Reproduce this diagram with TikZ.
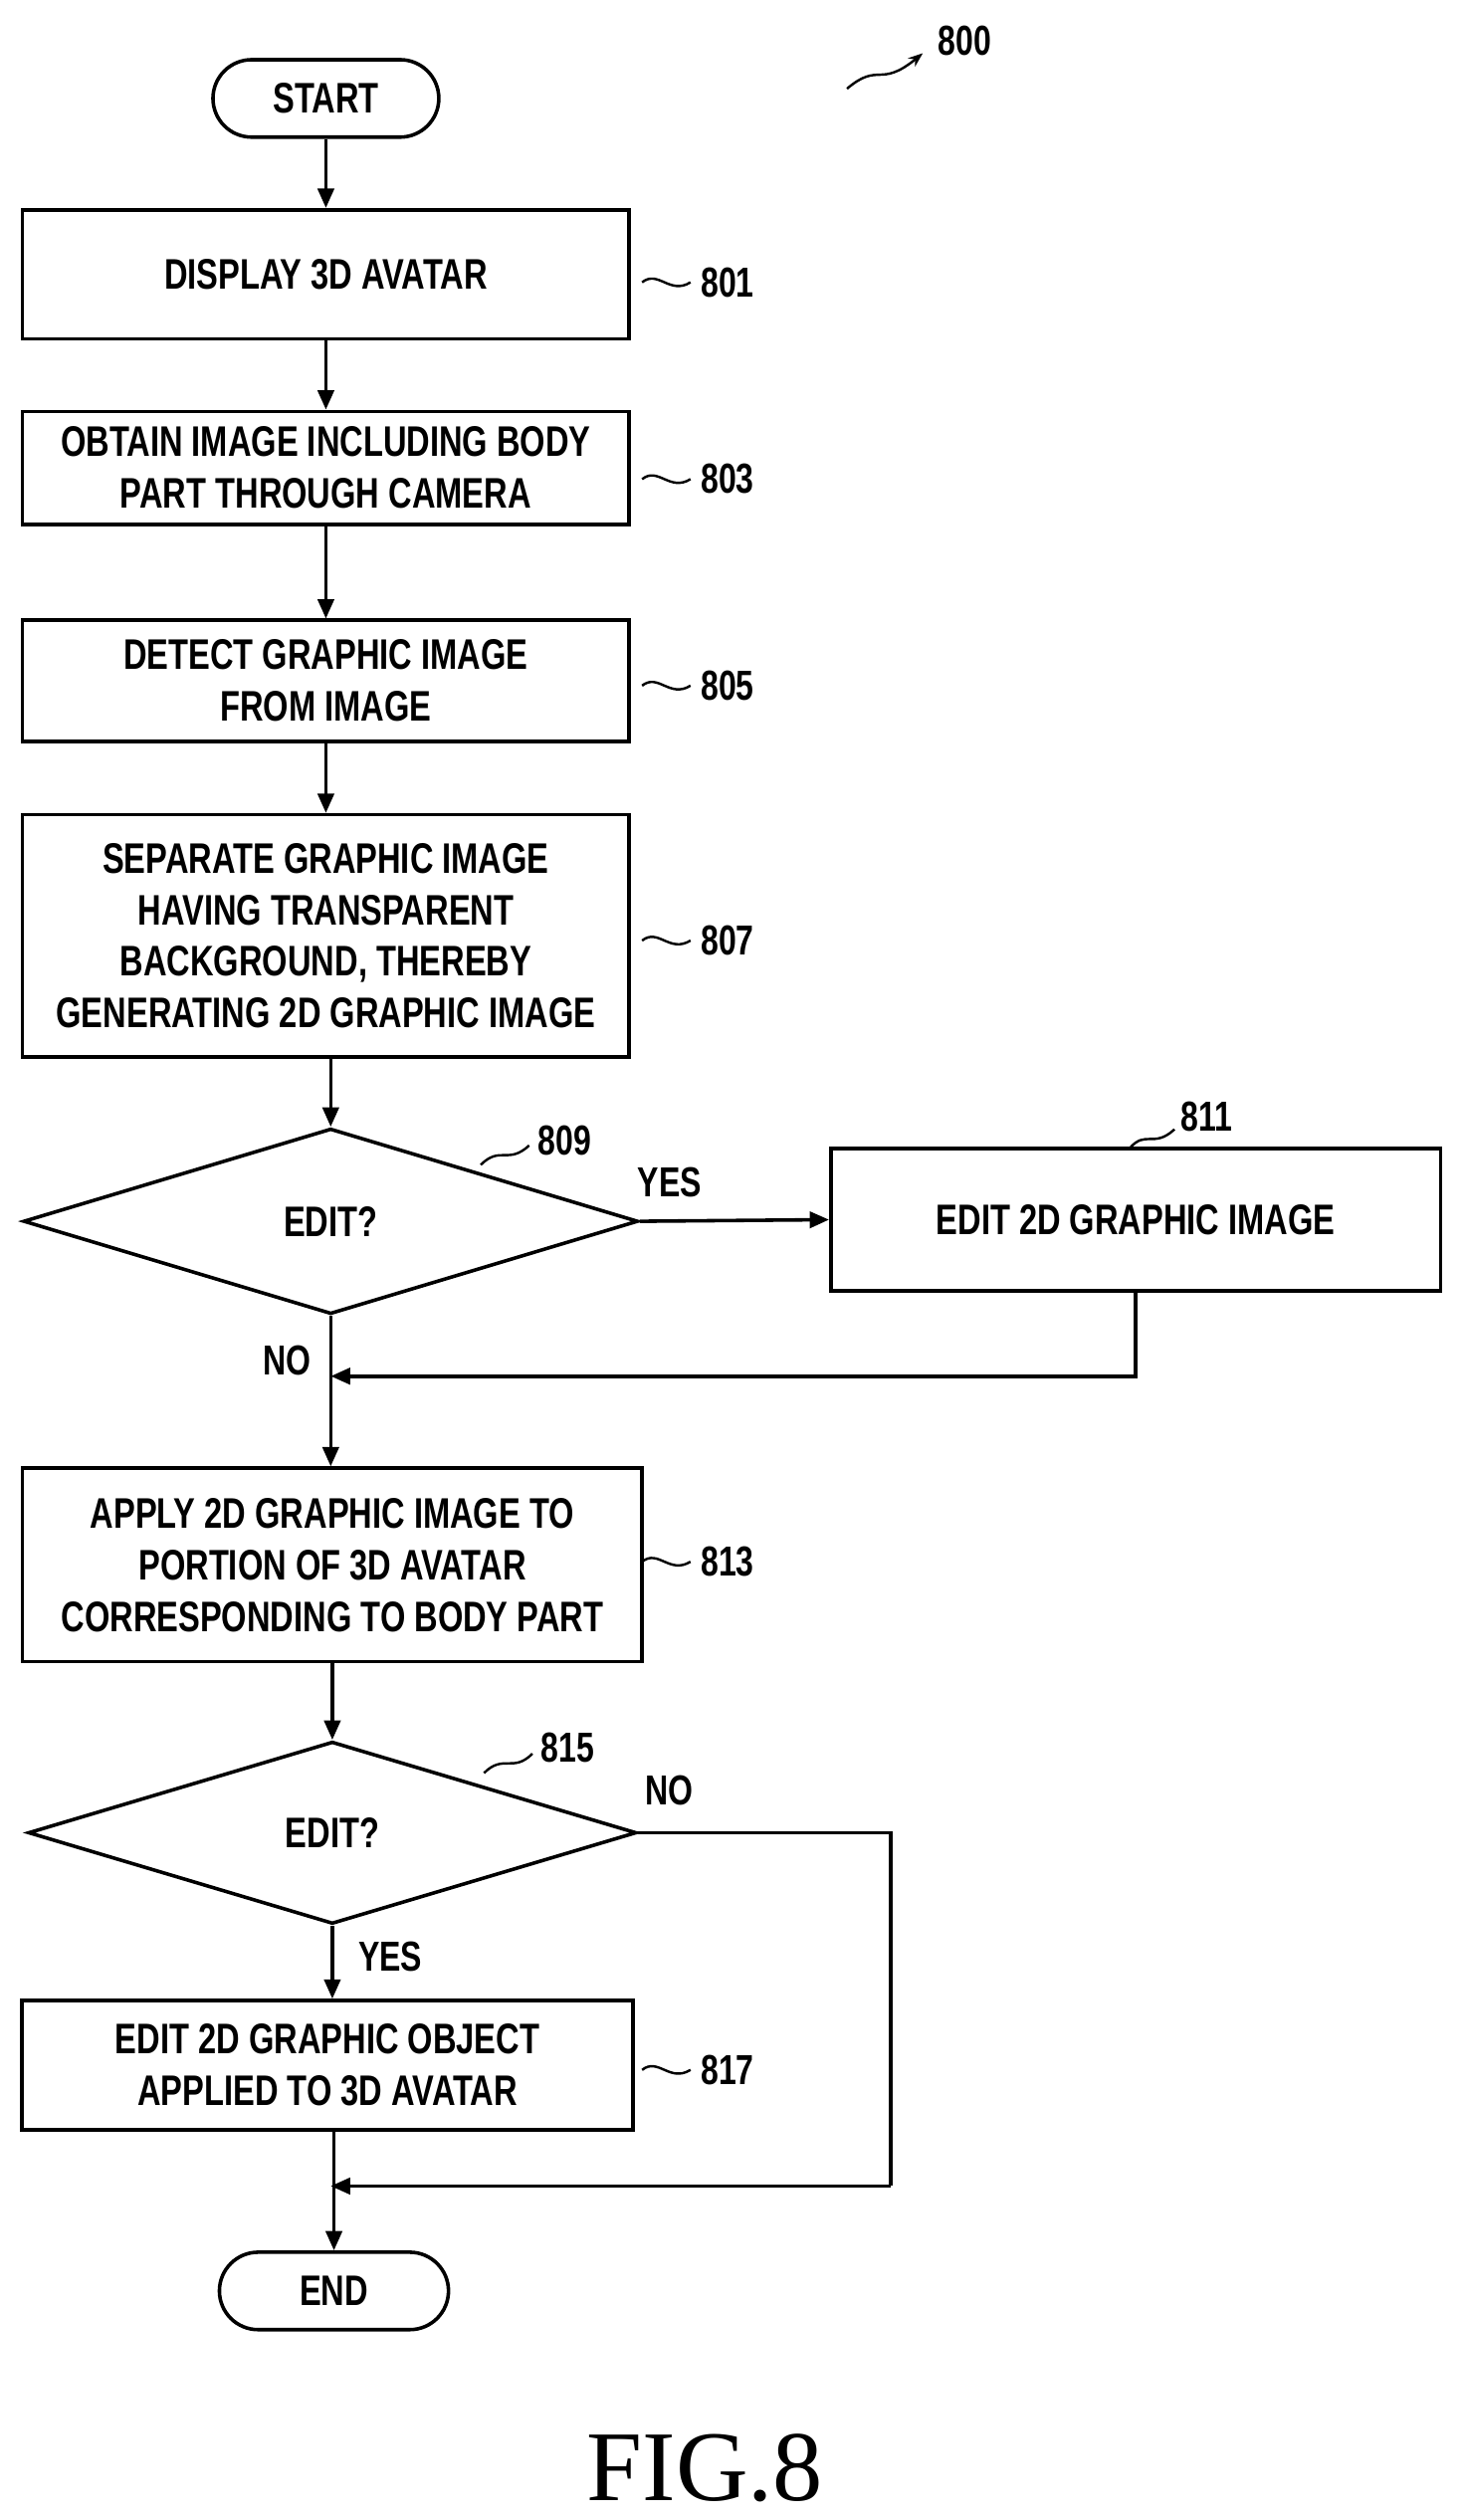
\documentclass[tikz,border=0pt]{standalone}
\usepackage{fontspec}
\setmainfont{Liberation Sans}[FakeStretch=0.76]
\newfontfamily\figfont{Liberation Serif}
\usetikzlibrary{shapes.geometric,arrows.meta}
\begin{document}
\begin{tikzpicture}[x=1pt,y=-1pt,line width=2.2pt,
  txt/.style={font=\fontsize{26.5}{32}\selectfont\bfseries,align=center},
  box/.style={draw,rectangle,txt,inner sep=0pt},
  pill/.style={draw,rounded corners=24pt,txt,inner sep=0pt},
  dia/.style={draw,diamond,txt,aspect=3.3,inner sep=0pt},
  arr/.style={-{Triangle[length=12pt,width=10pt]}},
  lab/.style={font=\fontsize{26}{30}\selectfont\bfseries}]
\useasboundingbox (0,0) rectangle (908,1562);
\node[pill,minimum width=140pt,minimum height=48pt] (start) at (202,61) {START};
\node[box,minimum width=376pt,minimum height=80pt] (b801) at (202,170) {DISPLAY 3D AVATAR};
\node[box,minimum width=376pt,minimum height=70pt] (b803) at (202,290) {OBTAIN IMAGE INCLUDING BODY\\PART THROUGH CAMERA};
\node[box,minimum width=376pt,minimum height=75pt] (b805) at (202,422) {DETECT GRAPHIC IMAGE\\FROM IMAGE};
\node[box,minimum width=376pt,minimum height=150pt] (b807) at (202,580) {SEPARATE GRAPHIC IMAGE\\HAVING TRANSPARENT\\BACKGROUND, THEREBY\\GENERATING 2D GRAPHIC IMAGE};
\node[dia,minimum width=381pt,minimum height=115pt] (d809) at (205,757) {EDIT?};
\node[box,minimum width=378pt,minimum height=88pt] (b811) at (704,756) {EDIT 2D GRAPHIC IMAGE};
\node[box,minimum width=384pt,minimum height=120pt] (b813) at (206,970) {APPLY 2D GRAPHIC IMAGE TO\\PORTION OF 3D AVATAR\\CORRESPONDING TO BODY PART};
\node[dia,minimum width=377pt,minimum height=113pt] (d815) at (206,1136) {EDIT?};
\node[box,minimum width=379pt,minimum height=80pt] (b817) at (203,1280) {EDIT 2D GRAPHIC OBJECT\\APPLIED TO 3D AVATAR};
\node[pill,minimum width=142pt,minimum height=48pt] (end) at (207,1420) {END};
\coordinate (m1) at (205,853);
\coordinate (m2) at (205,1355);
\coordinate (r1) at (552,1136);
\coordinate (r2) at (552,1355);
\draw[arr] (start) -- (b801);
\draw[arr] (b801) -- (b803);
\draw[arr] (b803) -- (b805);
\draw[arr] (b805) -- (b807);
\draw[arr] (b807.south -| d809.north) -- (d809.north);
\draw[arr] (d809.east) -- (b811.west);
\draw[arr] (b811.south) |- (m1);
\draw[arr] (d809.south) -- (b813.north -| d809.south);
\draw[arr] (b813.south -| d815.north) -- (d815.north);
\draw[arr] (d815.south) -- (b817.north -| d815.south);
\draw (d815.east) -- (r1) -- (r2);
\draw[arr] (r2) -- (m2);
\draw[arr] (b817.south -| end.north) -- (end.north);
\node[lab] at (415,733) {YES};
\node[lab] at (178,843) {NO};
\node[lab] at (415,1110) {NO};
\node[lab] at (242,1213) {YES};
\foreach \y/\t in {175/801,297/803,425/805,583/807,968/813,1283/817}{
  \node[lab,anchor=west] at (430,\y) {\t};
  \draw[line width=1.5pt] (398,\y) .. controls (408,\y-8) and (415,\y+8) .. (428,\y);
}
\node[lab] at (350,707) {809};
\draw[line width=1.5pt] (298,722) .. controls (310,710) and (315,722) .. (328,710);
\node[lab] at (748,692) {811};
\draw[line width=1.5pt] (700,712) .. controls (710,700) and (715,712) .. (728,700);
\node[lab] at (352,1083) {815};
\draw[line width=1.5pt] (300,1099) .. controls (312,1087) and (318,1099) .. (330,1087);
\node[lab] at (598,25) {800};
\draw[line width=1.5pt,-{Stealth[length=9pt]}] (525,55) .. controls (545,38) and (545,55) .. (572,33);
\node[font=\figfont\fontsize{62}{70}\selectfont] at (437,1530) {FIG.8};
\end{tikzpicture}
\end{document}
